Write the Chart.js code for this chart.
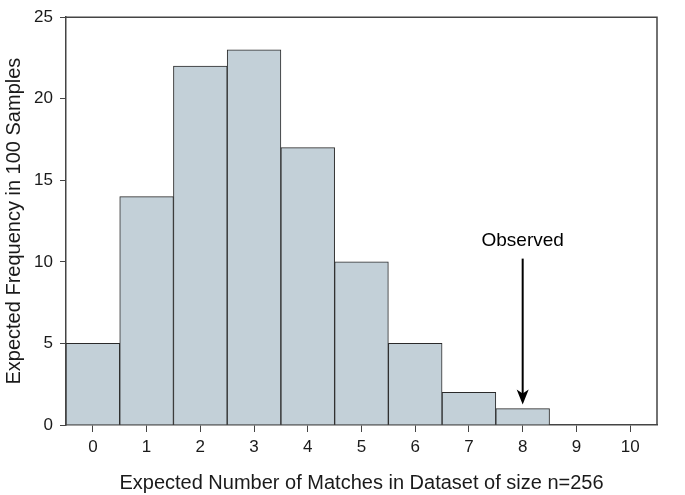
<!DOCTYPE html>
<html>
<head>
<meta charset="utf-8">
<script src="https://cdn.jsdelivr.net/npm/chart.js@4/dist/chart.umd.min.js"></script>
<style>
  html, body { margin: 0; padding: 0; background: #fff; }
  #wrap { width: 685px; height: 495px; }
</style>
</head>
<body>
<div id="wrap"><canvas id="histChart"></canvas></div>
<script>
// histogram data
const matchCounts = ['0', '1', '2', '3', '4', '5', '6', '7', '8', '9', '10'];
const frequencies = [5, 14, 22, 23, 17, 10, 5, 2, 1, 0, 0];
const yTicks = [0, 5, 10, 15, 20, 25];

// the "Observed" arrow
const observedAt = '8';
const arrowFrom = 10.2;
const arrowTo = 1.25;
const labelAt = 11.3;

const fontFamily = "'Liberation Sans', Arial, Helvetica, sans-serif";
const ink = '#1a1a1a';

// top and right frame lines + the annotation arrow
const framePlugin = {
    id: 'frame',
    afterDraw(chart) {
        const ctx = chart.ctx;
        const area = chart.chartArea;
        const x = chart.scales.x;
        const y = chart.scales.y;
        ctx.save();
        ctx.strokeStyle = '#444';
        ctx.lineWidth = 1.5;
        ctx.beginPath();
        ctx.moveTo(area.left, area.top);
        ctx.lineTo(area.right, area.top);
        ctx.lineTo(area.right, area.bottom);
        ctx.stroke();

        const ax = x.getPixelForValue(matchCounts.indexOf(observedAt));
        const y1 = y.getPixelForValue(arrowFrom);
        const y2 = y.getPixelForValue(arrowTo);
        ctx.strokeStyle = '#000';
        ctx.fillStyle = '#000';
        ctx.lineWidth = 2;
        ctx.beginPath();
        ctx.moveTo(ax, y1);
        ctx.lineTo(ax, y2 - 10);
        ctx.stroke();
        ctx.beginPath();
        ctx.moveTo(ax, y2);
        ctx.lineTo(ax - 6, y2 - 15);
        ctx.lineTo(ax, y2 - 11);
        ctx.lineTo(ax + 6, y2 - 15);
        ctx.closePath();
        ctx.fill();

        ctx.font = '19px ' + fontFamily;
        ctx.textAlign = 'center';
        ctx.textBaseline = 'middle';
        ctx.fillText('Observed', ax, y.getPixelForValue(labelAt));
        ctx.restore();
    }
};

new Chart(document.getElementById('histChart'), {
    type: 'bar',
    data: {
        labels: matchCounts,
        datasets: [{
            data: frequencies,
            backgroundColor: '#c3d0d8',
            borderColor: '#2a2a2a',
            borderWidth: 1,
            categoryPercentage: 1.0,
            barPercentage: 1.0
        }]
    },
    options: {
        responsive: true,
        maintainAspectRatio: false,
        animation: false,
        layout: { padding: { left: 0, right: 28, top: 12, bottom: 0 } },
        plugins: {
            legend: { display: false },
            tooltip: { enabled: false }
        },
        scales: {
            x: {
                offset: true,
                grid: { display: true, drawOnChartArea: false, drawTicks: true, tickLength: 7, color: '#444', offset: false },
                border: { display: true, color: '#444', width: 1.5 },
                ticks: { color: ink, font: { family: fontFamily, size: 17 }, padding: 5 },
                title: {
                    display: true,
                    text: 'Expected Number of Matches in Dataset of size n=256',
                    color: ink,
                    font: { family: fontFamily, size: 20 },
                    padding: { top: 11, bottom: 0 }
                },
                afterFit(scale) { scale.height = 70; }
            },
            y: {
                min: 0,
                max: 25,
                afterBuildTicks(scale) { scale.ticks = yTicks.map(v => ({ value: v })); },
                grid: { display: true, drawOnChartArea: false, drawTicks: true, tickLength: 6, color: '#444' },
                border: { display: true, color: '#444', width: 1.5 },
                ticks: { color: ink, font: { family: fontFamily, size: 17 }, padding: 7 },
                title: {
                    display: true,
                    text: 'Expected Frequency in 100 Samples',
                    color: ink,
                    font: { family: fontFamily, size: 20 },
                    padding: { top: 2, bottom: 4 }
                },
                afterFit(scale) { scale.width = 66; }
            }
        }
    },
    plugins: [framePlugin]
});
</script>
</body>
</html>
